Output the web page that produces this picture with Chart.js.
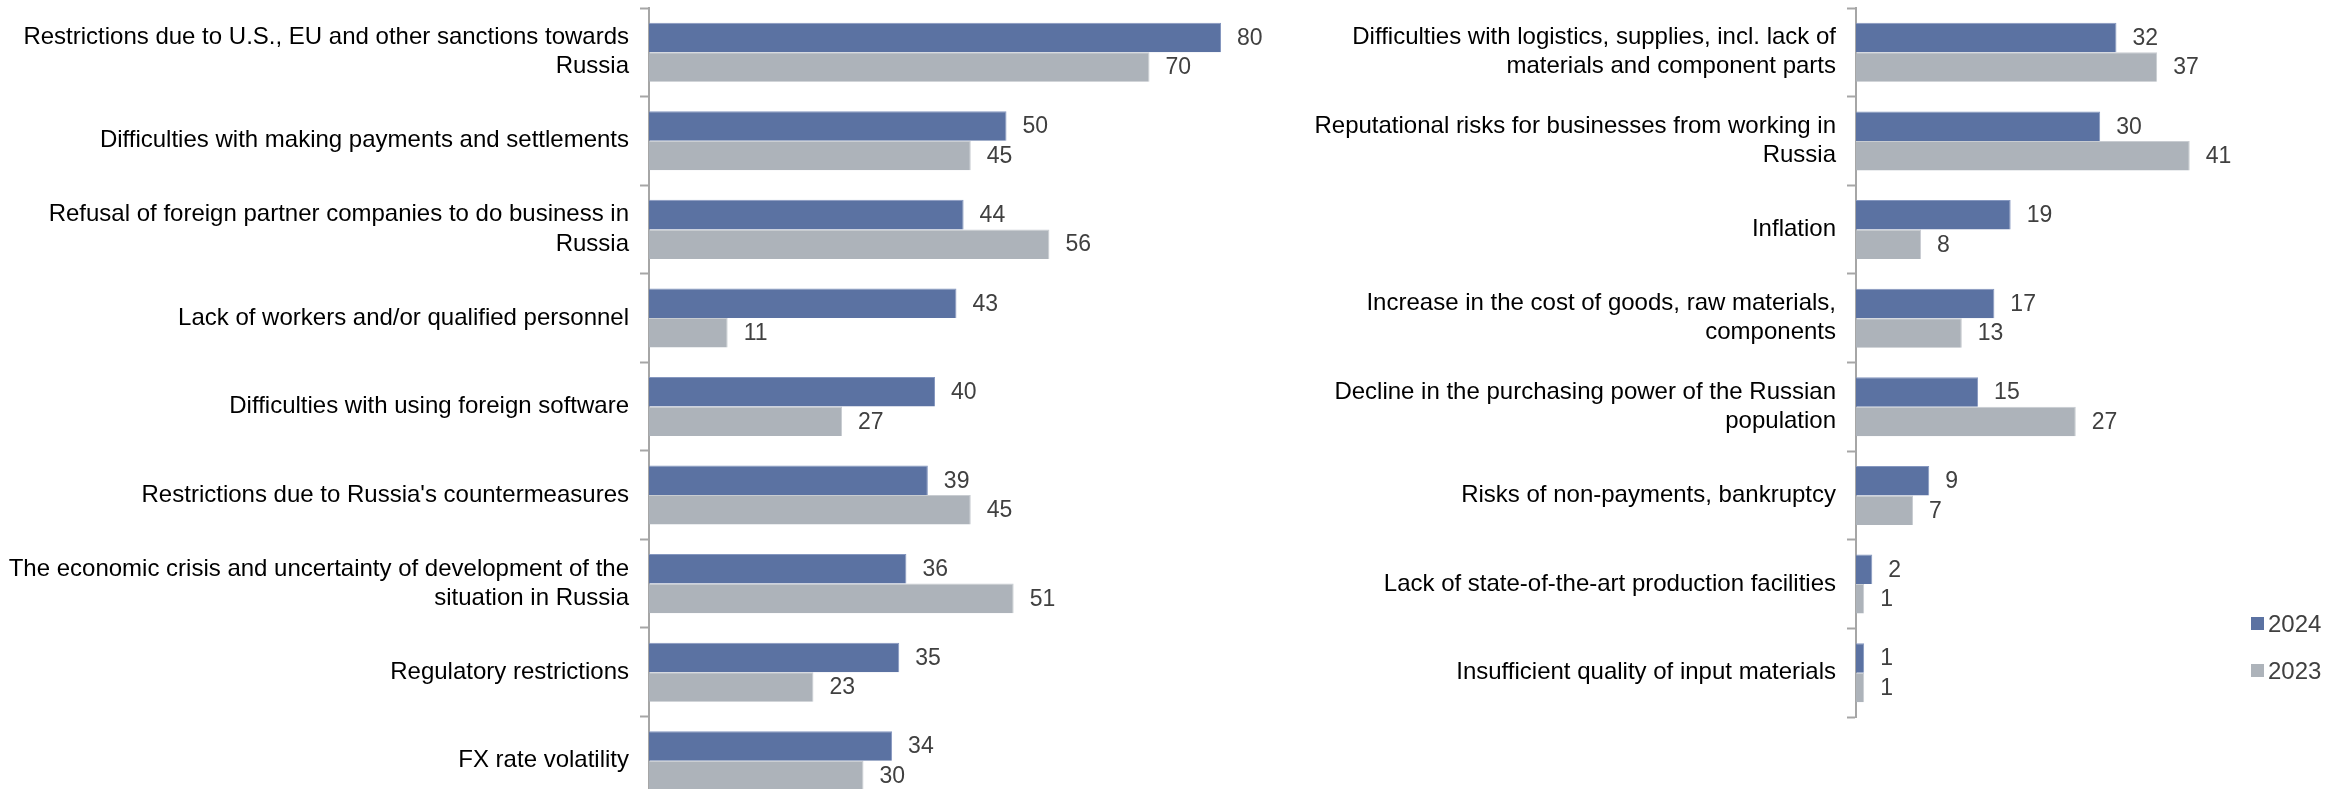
<!DOCTYPE html>
<html>
<head>
<meta charset="utf-8">
<script src="https://cdn.jsdelivr.net/npm/chart.js@4.4.0/dist/chart.umd.min.js"></script>
<style>
  html, body { margin: 0; padding: 0; background: #fff; overflow: hidden; }
  #wrap { position: relative; width: 2348px; height: 789px; }
  .box { position: absolute; top: 0; }
  #leftBox { left: 0; width: 1300px; height: 812px; }
  #rightBox { left: 1300px; width: 1000px; height: 789px; }
  #legend { position: absolute; left: 2251px; top: 600px; font-family: 'Liberation Sans', Arial, sans-serif; font-size: 24px; color: #404040; }
  #legend div { display: flex; align-items: center; height: 47px; }
  #legend span.sw { display: inline-block; width: 13px; height: 13px; margin-right: 4px; }
</style>
</head>
<body>
<div id="wrap">
  <div class="box" id="leftBox"><canvas id="leftChart"></canvas></div>
  <div class="box" id="rightBox"><canvas id="rightChart"></canvas></div>
  <div id="legend"></div>
</div>
<script>
// Datos
const seriesNames = ['2024', '2023'];
const seriesColors = ['#5b72a2', '#adb3ba'];
const seriesEdges = ['#8597bf', '#c8ccd1'];

const leftLabels = [
  ['Restrictions due to U.S., EU and other sanctions towards', 'Russia'],
  'Difficulties with making payments and settlements',
  ['Refusal of foreign partner companies to do business in', 'Russia'],
  'Lack of workers and/or qualified personnel',
  'Difficulties with using foreign software',
  "Restrictions due to Russia's countermeasures",
  ['The economic crisis and uncertainty of development of the', 'situation in Russia'],
  'Regulatory restrictions',
  'FX rate volatility'
];
const left2024 = [80, 50, 44, 43, 40, 39, 36, 35, 34];
const left2023 = [70, 45, 56, 11, 27, 45, 51, 23, 30];

const rightLabels = [
  ['Difficulties with logistics, supplies, incl. lack of', 'materials and component parts'],
  ['Reputational risks for businesses from working in', 'Russia'],
  'Inflation',
  ['Increase in the cost of goods, raw materials,', 'components'],
  ['Decline in the purchasing power of the Russian', 'population'],
  'Risks of non-payments, bankruptcy',
  'Lack of state-of-the-art production facilities',
  'Insufficient quality of input materials'
];
const right2024 = [32, 30, 19, 17, 15, 9, 2, 1];
const right2023 = [37, 41, 8, 13, 27, 7, 1, 1];

const FONT = "'Liberation Sans', Arial, sans-serif";

// Etiquetas de valor al final de cada barra
const valueLabels = {
  id: 'valueLabels',
  afterDatasetsDraw(chart) {
    const ctx = chart.ctx;
    ctx.save();
    ctx.font = '23px ' + FONT;
    ctx.fillStyle = '#404040';
    ctx.textAlign = 'left';
    ctx.textBaseline = 'middle';
    chart.data.datasets.forEach((ds, i) => {
      chart.getDatasetMeta(i).data.forEach((bar, j) => {
        ctx.fillText(ds.data[j], bar.x + 16, bar.y + 1);
      });
    });
    ctx.restore();
  }
};

function crearGrafico(id, labels, d2024, d2023, xMax, axisWidth, pad) {
  const ctx = document.getElementById(id).getContext('2d');
  const serie = (k, data) => ({
    label: seriesNames[k],
    data: data,
    backgroundColor: seriesColors[k],
    borderColor: seriesEdges[k],
    borderWidth: { top: 1, right: 1, bottom: 0, left: 0 },
    borderSkipped: 'start'
  });
  return new Chart(ctx, {
    type: 'bar',
    data: {
      labels: labels,
      datasets: [serie(0, d2024), serie(1, d2023)]
    },
    options: {
      indexAxis: 'y',
      responsive: true,
      maintainAspectRatio: false,
      animation: false,
      layout: { padding: pad },
      datasets: { bar: { categoryPercentage: 0.667, barPercentage: 1 } },
      plugins: { legend: { display: false }, tooltip: { enabled: false } },
      scales: {
        x: { display: false, min: 0, max: xMax },
        y: {
          // ancho fijo del eje y sin relleno extra por las etiquetas de dos líneas
          afterFit(scale) {
            scale.width = axisWidth;
            scale.paddingTop = 0;
            scale.paddingBottom = 0;
          },
          border: { display: true, color: '#a6a6a6', width: 2 },
          grid: { offset: true, drawOnChartArea: false, drawTicks: true, tickLength: 9, tickColor: '#a6a6a6', tickWidth: 2 },
          ticks: { color: '#000', padding: 11, font: { family: FONT, size: 24, lineHeight: 1.21 } }
        }
      }
    },
    plugins: [valueLabels]
  });
}

const leftChart = crearGrafico('leftChart', leftLabels, left2024, left2023, 90, 649, { top: 8, bottom: 7, left: 0, right: 7.5 });
const rightChart = crearGrafico('rightChart', rightLabels, right2024, right2023, 43, 556, { top: 8, bottom: 72, left: 0, right: 94 });

// Leyenda
const legend = document.getElementById('legend');
rightChart.data.datasets.forEach(ds => {
  const row = document.createElement('div');
  row.innerHTML = '<span class="sw" style="background:' + ds.backgroundColor + '"></span>' + ds.label;
  legend.appendChild(row);
});
</script>
</body>
</html>
